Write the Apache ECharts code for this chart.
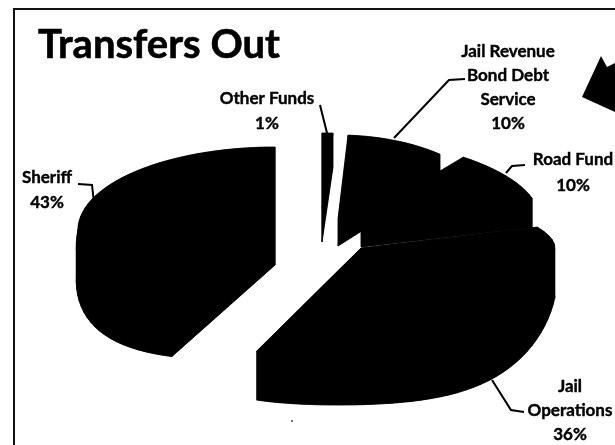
<!DOCTYPE html>
<html>
<head>
<meta charset="utf-8">
<style>html,body{margin:0;padding:0;background:#fff}#c{width:615px;height:445px}</style>
<script src="https://cdn.jsdelivr.net/npm/echarts@6/dist/echarts.min.js"></script>
</head>
<body>
<div id="c"></div>
<script>
// Share of transfers out, in clockwise order from twelve o'clock.
const categories = ['Other Funds', 'Jail Revenue\nBond Debt\nService', 'Road Fund', 'Jail\nOperations', 'Sheriff'];
const shares = [1, 10, 10, 36, 43];

// Exploded wedge placement: each wedge has its own hub, radii and extrusion depth.
const wedgeFrames = [
  { cx: 322, cy: 208, rx: 175, top: 75, bottom: 100, depth: 34, far: 1 },
  { cx: 338, cy: 219, rx: 160, top: 84, bottom: 100, depth: 27, far: 1 },
  { cx: 361, cy: 218, rx: 178, top: 79, bottom: 100, depth: 29, far: 1.23 },
  { cx: 361, cy: 248, rx: 194, top: 84, bottom: 108, depth: 49, far: 3 },
  { cx: 275, cy: 230, rx: 197, top: 83, bottom: 96, depth: 35, far: 1 }
];
// Label anchor and leader line per wedge.
const labelFrames = [
  { x: 267, y: 99, gap: 25, leader: [[320, 105], [327, 133]] },
  { x: 508, y: 52, gap: 24, leader: [[465, 79], [449, 80], [394, 138]] },
  { x: 573, y: 160, gap: 26, leader: [[525, 165], [512, 166], [506, 173]] },
  { x: 570, y: 387, gap: 24, leader: [[492, 380], [511, 410], [524, 412]] },
  { x: 47, y: 178, gap: 25, leader: [[78, 184], [92, 185], [94, 203]] }
];

const INK = '#000';
const SHEAR = 0.21;      // near half of the disc leans left under the perspective
const NEAR_BULGE = 0.3;  // near half of the rim swells toward the viewer

function rimPoint(f, deg, lift) {
  const t = deg * Math.PI / 180;
  const c = Math.cos(t);
  const s = Math.sin(t);
  let x;
  let y;
  if (c >= 0) {
    x = f.rx * Math.sign(s) * Math.pow(Math.abs(s), f.far);
    y = -f.top * c;
  } else {
    y = f.bottom * -c * (1 + NEAR_BULGE * s * s);
    x = f.rx * s - SHEAR * y;
  }
  return [f.cx + x, f.cy + y + lift];
}

function wedgeShapes(f, from, to) {
  const topArc = [];
  const lowArc = [];
  const steps = Math.max(4, Math.ceil((to - from) / 3));
  for (let i = 0; i <= steps; i++) {
    const a = from + (to - from) * i / steps;
    topArc.push(rimPoint(f, a, 0));
    lowArc.push(rimPoint(f, a, f.depth));
  }
  const hubTop = [f.cx, f.cy];
  const hubLow = [f.cx, f.cy + f.depth];
  const shapes = [
    [hubTop].concat(topArc),
    [hubLow].concat(lowArc),
    [hubTop, topArc[0], lowArc[0], hubLow],
    [hubTop, topArc[steps], lowArc[steps], hubLow]
  ];
  // The side wall is built strip by strip so its silhouette stays closed.
  for (let i = 0; i < steps; i++) {
    shapes.push([topArc[i], topArc[i + 1], lowArc[i + 1], lowArc[i]]);
  }
  return shapes;
}

const total = shares.reduce((a, b) => a + b, 0);

function renderWedge(params, api) {
  const i = params.dataIndex;
  const before = shares.slice(0, i).reduce((a, b) => a + b, 0);
  const from = before / total * 360;
  const to = from + api.value(0) / total * 360;
  const f = wedgeFrames[i];
  const l = labelFrames[i];
  const children = wedgeShapes(f, from, to).map(points => ({
    type: 'polygon',
    shape: { points },
    style: { fill: INK, stroke: INK, lineWidth: 0.5 }
  }));
  children.push({
    type: 'polyline',
    shape: { points: l.leader },
    style: { fill: null, stroke: INK, lineWidth: 2 }
  });
  const lines = (categories[i] + '\n' + shares[i] + '%').split('\n');
  lines.forEach((line, n) => {
    children.push({
      type: 'text',
      style: {
        x: l.x,
        y: l.y + n * l.gap,
        text: line,
        align: 'center',
        verticalAlign: 'middle',
        font: 'bold 17px Lato',
        fill: INK,
        stroke: INK,
        lineWidth: 0.4
      }
    });
  });
  return { type: 'group', children };
}

const chart = echarts.init(document.getElementById('c'), null, { renderer: 'canvas' });
chart.setOption({
  animation: false,
  backgroundColor: '#fff',
  title: {
    text: 'Transfers Out',
    left: 33,
    top: 20,
    textStyle: {
      fontFamily: 'Lato',
      fontWeight: 'bold',
      fontSize: 40,
      color: INK,
      textBorderColor: INK,
      textBorderWidth: 0.6
    }
  },
  graphic: [
    // Slide frame, running off the right and bottom edges
    {
      type: 'polyline',
      shape: { points: [[14, 445], [14, 9], [615, 9]] },
      style: { fill: null, stroke: '#111', lineWidth: 2 }
    },
    // Clipped shape in the upper right corner
    {
      type: 'polygon',
      shape: { points: [[601, 56], [582, 97], [615, 112], [615, 63], [607, 67]] },
      style: { fill: INK }
    },
    { type: 'circle', shape: { cx: 292, cy: 421, r: 1 }, style: { fill: '#444' } }
  ],
  series: [{
    type: 'custom',
    coordinateSystem: 'none',
    renderItem: renderWedge,
    data: shares.map(v => [v])
  }]
});
</script>
</body>
</html>
